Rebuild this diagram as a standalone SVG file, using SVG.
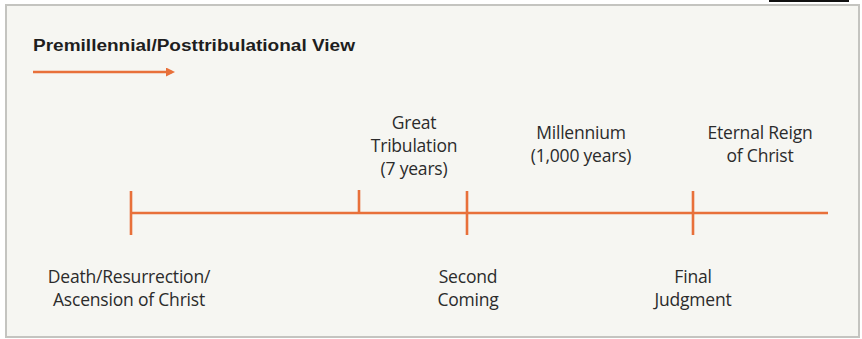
<svg xmlns="http://www.w3.org/2000/svg" width="862" height="339" viewBox="0 0 862 339">
<defs>
<style>
.lbl{font-family:"Open Sans","Liberation Sans",sans-serif;font-size:17.5px;fill:#2b2b2b;text-anchor:middle;letter-spacing:-0.2px}
.ttl{font-family:"Liberation Sans",Arial,sans-serif;font-weight:bold;font-size:16px;fill:#1e1e1e}
.ln{stroke:#e8703a;stroke-width:2.6;fill:none}
</style>
<marker id="ah" markerWidth="9" markerHeight="9" refX="6" refY="4.5" orient="auto" markerUnits="userSpaceOnUse">
<path d="M0,0 L9,4.5 L0,9 Z" fill="#e8703a"/>
</marker>
</defs>
<rect x="0" y="0" width="862" height="339" fill="#ffffff"/>
<rect x="6" y="5" width="853" height="332" fill="#f6f6f2" stroke="#c4c4c0" stroke-width="2"/>
<rect x="769" y="0" width="80" height="2" fill="#111"/>
<g id="title">
<text class="ttl" x="33" y="51" textLength="322" lengthAdjust="spacingAndGlyphs">Premillennial/Posttribulational View</text>
<line class="ln" x1="33" y1="72" x2="172" y2="72" stroke-width="3" marker-end="url(#ah)"/>
</g>
<g id="connectors">
<line class="ln" x1="131" y1="213" x2="828" y2="213"/>
<line class="ln" x1="131" y1="191" x2="131" y2="235"/>
<line class="ln" x1="359" y1="190" x2="359" y2="213" stroke-width="2"/>
<line class="ln" x1="467" y1="191" x2="467" y2="235"/>
<line class="ln" x1="693" y1="191" x2="693" y2="235"/>
</g>
<g id="death">
<text class="lbl" x="129" y="283">Death/Resurrection/</text>
<text class="lbl" x="129" y="306">Ascension of Christ</text>
</g>
<g id="tribulation">
<text class="lbl" x="414" y="129">Great</text>
<text class="lbl" x="414" y="152">Tribulation</text>
<text class="lbl" x="414" y="175">(7 years)</text>
</g>
<g id="second">
<text class="lbl" x="468" y="283">Second</text>
<text class="lbl" x="468" y="306">Coming</text>
</g>
<g id="millennium">
<text class="lbl" x="581" y="139">Millennium</text>
<text class="lbl" x="581" y="162">(1,000 years)</text>
</g>
<g id="judgment">
<text class="lbl" x="693" y="283">Final</text>
<text class="lbl" x="693" y="306">Judgment</text>
</g>
<g id="eternal">
<text class="lbl" x="760" y="139">Eternal Reign</text>
<text class="lbl" x="760" y="162">of Christ</text>
</g>
</svg>
